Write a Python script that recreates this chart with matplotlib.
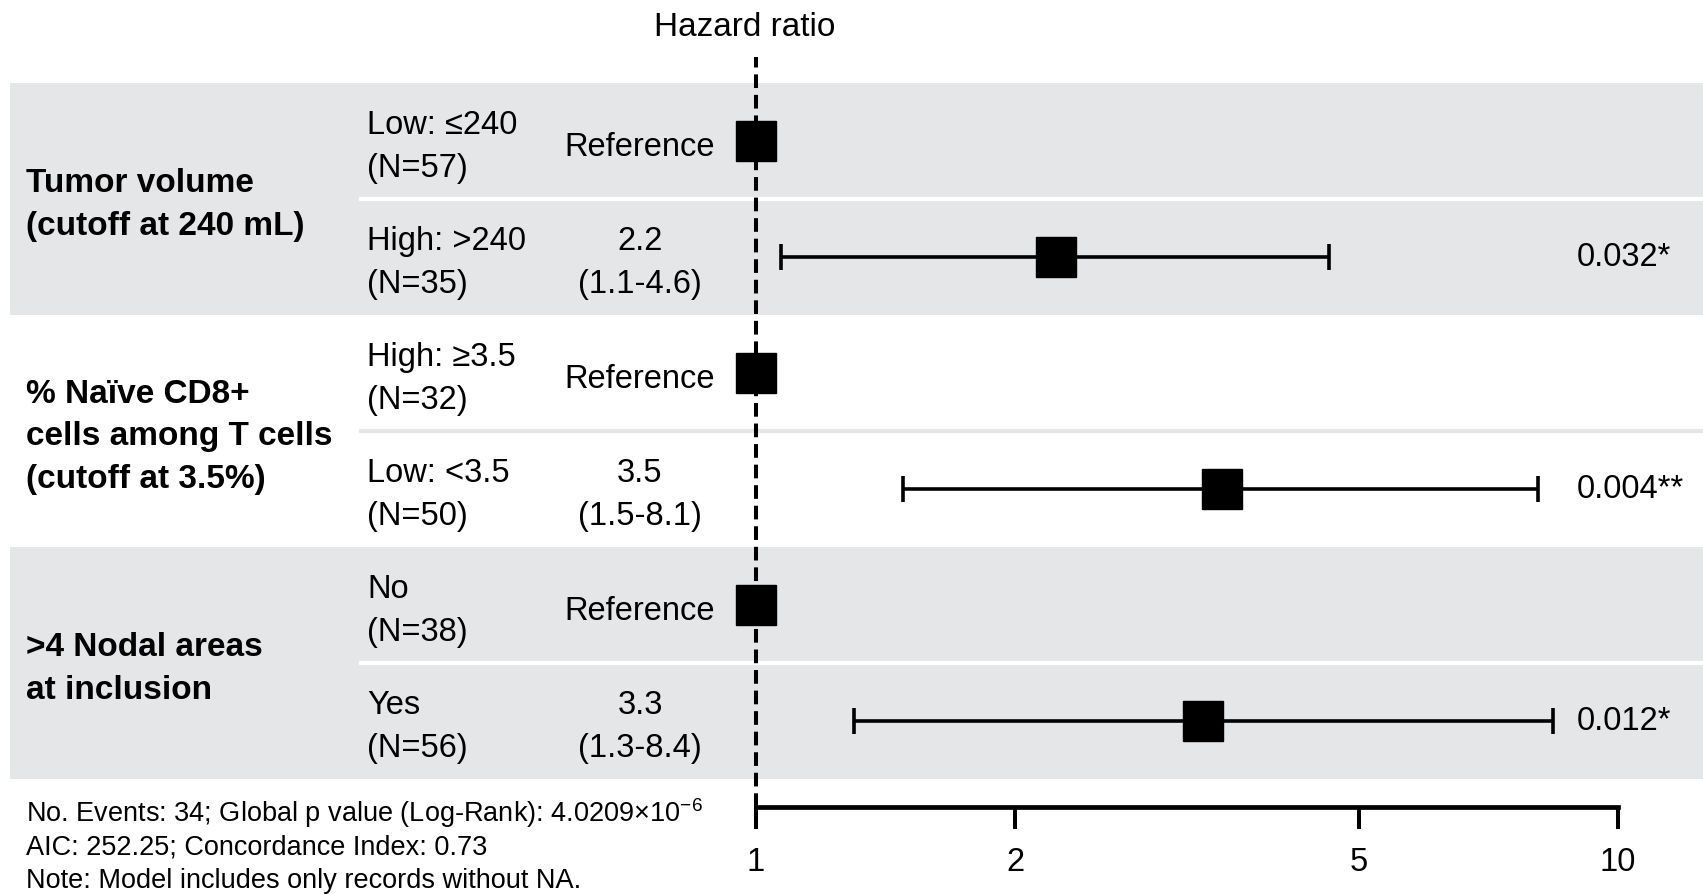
import numpy as np
import matplotlib
matplotlib.use('Agg')
import matplotlib.pyplot as plt
from matplotlib import transforms
from matplotlib.ticker import NullLocator

plt.rcParams['font.family'] = ['Liberation Sans', 'DejaVu Sans']
plt.rcParams['mathtext.fontset'] = 'custom'
plt.rcParams['mathtext.rm'] = 'Liberation Sans'

#data
groups = ['Tumor volume\n(cutoff at 240 mL)',
          '% Naïve CD8+\ncells among T cells\n(cutoff at 3.5%)',
          '>4 Nodal areas\nat inclusion']
group_rows = [(0, 1), (2, 3), (4, 5)]
levels = ['Low: ≤240', 'High: >240', 'High: ≥3.5', 'Low: <3.5', 'No', 'Yes']
n_obs = [57, 35, 32, 50, 38, 56]
hr = [1, 2.23, 1, 3.47, 1, 3.30]
ci_lo = [np.nan, 1.07, np.nan, 1.48, np.nan, 1.30]
ci_hi = [np.nan, 4.62, np.nan, 8.07, np.nan, 8.41]
is_ref = [True, False, True, False, True, False]
pvals = ['', '0.032*', '', '0.004**', '', '0.012*']
notes = [r'No. Events: 34; Global p value (Log-Rank): 4.0209$\times$10$^{-6}$',
         'AIC: 252.25; Concordance Index: 0.73',
         'Note: Model includes only records without NA.']
xticks = [1, 2, 5, 10]

#layout in pixels
W, H = 1703, 895
x1_px = 756       #where HR=1 sits
decade_px = 862   #pixels per decade
row_top = 84
row_h = 116
axis_px = 808
gray = '#E5E6E8'
fs = 23.5

def fx(px):
    return px / W

fig = plt.figure(figsize=(W/100, H/100), dpi=100)
ax = fig.add_axes([0, (H-axis_px)/H, 1, (axis_px-row_top)/H])
ax.set_xscale('log')
ax.set_xlim(10**(-x1_px/decade_px), 10**((W-x1_px)/decade_px))
y_bottom = -0.5 + (axis_px-row_top)/row_h
ax.set_ylim(y_bottom, -0.5)
trans = transforms.blended_transform_factory(ax.transAxes, ax.transData)
dy = 5/row_h   #text sits a few px below the marker centre

#background bands + row separators
for g, (a, b) in enumerate(group_rows):
    if g % 2 == 0:
        ax.axhspan(a-0.5, b+0.5, xmin=fx(10), xmax=1, color=gray, lw=0, zorder=0)
        sep = 'white'
    else:
        sep = gray
    ax.axhline(a+0.5, xmin=fx(361), xmax=1, color=sep, lw=3, zorder=1)
    ax.text(fx(26), (a+b)/2 + dy, groups[g], transform=trans, ha='left', va='center',
            fontsize=24, fontweight='bold', linespacing=1.48)

y = np.arange(len(levels))
hr_a = np.array(hr)
lo_a = np.array(ci_lo)
hi_a = np.array(ci_hi)
m = ~np.array(is_ref)

#table columns
for i in range(len(levels)):
    ax.text(fx(367), i + dy, levels[i] + '\n(N=' + str(n_obs[i]) + ')', transform=trans,
            ha='left', va='center', fontsize=fs, linespacing=1.5)
    if is_ref[i]:
        lab = 'Reference'
    else:
        lab = '%.1f\n(%.1f-%.1f)' % (hr[i], ci_lo[i], ci_hi[i])
    ax.text(fx(640), i + dy, lab, transform=trans, ha='center', va='center',
            fontsize=fs, linespacing=1.5)
    if pvals[i]:
        ax.text(fx(1577), i, pvals[i], transform=trans, ha='left', va='center',
                fontsize=fs)

#reference line
ax.plot([1, 1], [y_bottom, -0.5 - (row_top-58)/row_h], color='black', lw=2.9,
        ls=(0, (3.4, 1.7)), clip_on=False, zorder=2)

#confidence intervals and estimates
ax.errorbar(hr_a[m], y[m], xerr=[hr_a[m]-lo_a[m], hi_a[m]-hr_a[m]], fmt='none',
            ecolor='black', elinewidth=2.6, capsize=9.7, capthick=2.6, zorder=3)
ax.plot(hr_a, y, 's', ms=28.5, color='black', zorder=4)

#axis
ax.set_xticks(xticks)
ax.set_xticklabels([str(t) for t in xticks])
ax.xaxis.set_minor_locator(NullLocator())
ax.tick_params(axis='x', length=15.8, width=2.9, pad=12, labelsize=23.5)
ax.tick_params(axis='y', left=False, labelleft=False)
for s in ['left', 'right', 'top']:
    ax.spines[s].set_visible(False)
ax.spines['bottom'].set_linewidth(3.4)
ax.spines['bottom'].set_bounds(1, 10)
ax.patch.set_visible(False)

fig.text(fx(745), 1 - 27/H, 'Hazard ratio', ha='center', va='center', fontsize=24)

#model summary under the table
for k, line in enumerate(notes):
    fig.text(fx(26), 1 - (822 + 33*k)/H, line, ha='left', va='baseline', fontsize=19.5)

fig.savefig('out.png', dpi=100)
